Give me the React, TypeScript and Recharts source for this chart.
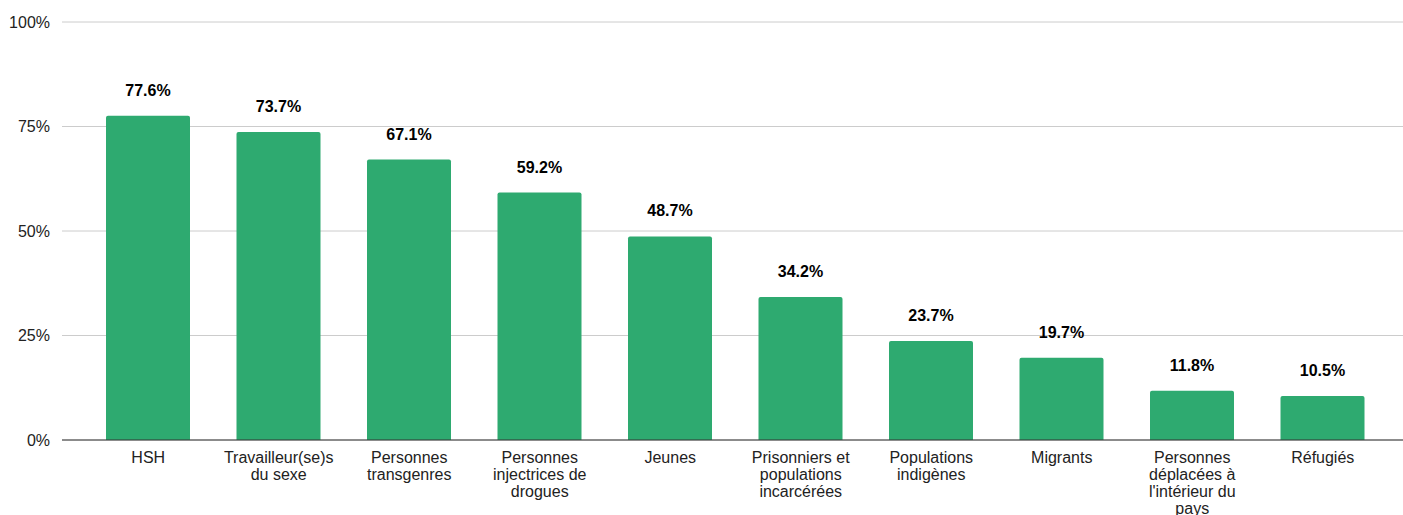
import React from "react";
import { BarChart, Bar, XAxis, YAxis, CartesianGrid, LabelList, Text } from "recharts";

const categories = [
  "HSH",
  "Travailleur(se)s du sexe",
  "Personnes transgenres",
  "Personnes injectrices de drogues",
  "Jeunes",
  "Prisonniers et populations incarcérées",
  "Populations indigènes",
  "Migrants",
  "Personnes déplacées à l'intérieur du pays",
  "Réfugiés",
];
const values = [77.6, 73.7, 67.1, 59.2, 48.7, 34.2, 23.7, 19.7, 11.8, 10.5];
const yTicks = [0, 25, 50, 75, 100];

const FONT = "'Liberation Sans', Arial, Helvetica, sans-serif";

const chartData = categories.map((name, i) => ({ name, value: values[i] }));

function CategoryTick(props: any) {
  const { x, y, payload } = props;
  return (
    <Text
      x={x}
      y={y}
      width={110}
      textAnchor="middle"
      verticalAnchor="start"
      lineHeight={17}
      fontSize={16}
      fontFamily={FONT}
      fill="#222"
    >
      {payload.value}
    </Text>
  );
}

export default function App() {
  return (
    <div style={{ position: "absolute", left: 0, top: 0, background: "#fff" }}>
      <BarChart
        width={1403}
        height={515}
        data={chartData}
        margin={{ top: 22, right: 0, bottom: 0, left: 0 }}
      >
        <CartesianGrid vertical={false} stroke="#cccccc" />
        <XAxis
          dataKey="name"
          interval={0}
          height={75}
          padding={{ left: 21, right: 15 }}
          tickSize={0}
          tickMargin={12}
          tick={<CategoryTick />}
          axisLine={{ stroke: "#333333" }}
        />
        <YAxis
          width={62}
          domain={[0, 100]}
          ticks={yTicks}
          tickFormatter={(v) => `${v}%`}
          axisLine={false}
          tickSize={0}
          tickMargin={12}
          tick={{ fill: "#222", fontSize: 16, fontFamily: FONT }}
        />
        <Bar
          dataKey="value"
          fill="#2eaa70"
          barSize={84}
          radius={[2, 2, 0, 0]}
          isAnimationActive={false}
        >
          <LabelList
            dataKey="value"
            position="top"
            offset={20}
            formatter={(v: number) => `${v.toFixed(1)}%`}
            style={{ fill: "#000", fontSize: 16, fontWeight: "bold", fontFamily: FONT }}
          />
        </Bar>
      </BarChart>
    </div>
  );
}
